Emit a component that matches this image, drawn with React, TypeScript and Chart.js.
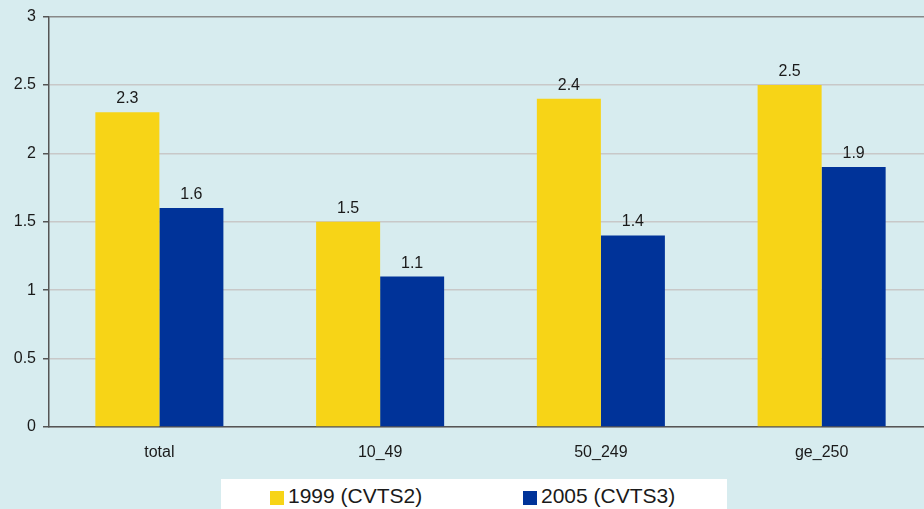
import React, { useEffect, useRef } from "react";
import { Chart, registerables } from "chart.js";

Chart.register(...registerables);

const categories = ["total", "10_49", "50_249", "ge_250"];
const series1999 = [2.3, 1.5, 2.4, 2.5];
const series2005 = [1.6, 1.1, 1.4, 1.9];
const seriesLabels = ["1999 (CVTS2)", "2005 (CVTS3)"];
const seriesColors = ["#F7D417", "#003399"];
const yTicks = [0, 0.5, 1, 1.5, 2, 2.5, 3];

const BG = "#D7ECEF";
const FONT = "'Liberation Sans', Arial, sans-serif";

const bgPlugin = {
  id: "bgfill",
  beforeDraw(chart: any) {
    const { ctx, width, height } = chart;
    ctx.save();
    ctx.fillStyle = BG;
    ctx.fillRect(0, 0, width, height);
    ctx.restore();
  },
};

const labelPlugin = {
  id: "barlabels",
  afterDatasetsDraw(chart: any) {
    const { ctx } = chart;
    ctx.save();
    ctx.font = `16px ${FONT}`;
    ctx.fillStyle = "#1a1a1a";
    ctx.textAlign = "center";
    ctx.textBaseline = "alphabetic";
    chart.data.datasets.forEach((ds: any, i: number) => {
      const meta = chart.getDatasetMeta(i);
      meta.data.forEach((bar: any, j: number) => {
        ctx.fillText(String(ds.data[j]), bar.x, bar.y - 9);
      });
    });
    ctx.restore();
  },
};

export default function App() {
  const ref = useRef<HTMLCanvasElement>(null);
  useEffect(() => {
    const chart = new Chart(ref.current!, {
      type: "bar",
      data: {
        labels: categories,
        datasets: [
          { label: seriesLabels[0], data: series1999, backgroundColor: seriesColors[0] },
          { label: seriesLabels[1], data: series2005, backgroundColor: seriesColors[1] },
        ],
      },
      options: {
        animation: false,
        responsive: false,
        maintainAspectRatio: false,
        layout: { padding: { top: 15, right: 0, left: 0, bottom: 0 } },
        datasets: { bar: { categoryPercentage: 0.58, barPercentage: 1 } },
        plugins: { legend: { display: false }, tooltip: { enabled: false } },
        scales: {
          x: {
            grid: { display: false },
            border: { display: true, color: "#555555", width: 1.5 },
            ticks: { color: "#1a1a1a", font: { family: FONT, size: 16 }, padding: 8 },
            afterFit: (s: any) => {
              s.height = 82;
            },
          },
          y: {
            min: 0,
            max: 3,
            afterBuildTicks: (s: any) => {
              s.ticks = yTicks.map((v) => ({ value: v }));
            },
            grid: {
              color: (c: any) => (c.tick && c.tick.value === 3 ? "#888888" : "#C8C8C8"),
              lineWidth: 1.5,
              tickColor: "#555555",
              tickLength: 6,
            },
            border: { display: true, color: "#555555", width: 1.5 },
            ticks: {
              color: "#1a1a1a",
              font: { family: FONT, size: 16 },
              padding: 7,
              callback: (v: any) => String(v),
            },
            afterFit: (s: any) => {
              s.width = 49;
            },
          },
        },
      },
      plugins: [bgPlugin, labelPlugin],
    });
    return () => chart.destroy();
  }, []);

  return (
    <div
      style={{
        position: "fixed",
        left: 0,
        top: 0,
        width: 924,
        height: 509,
        background: BG,
        fontFamily: FONT,
        overflow: "hidden",
      }}
    >
      <canvas ref={ref} width={932} height={509} style={{ display: "block" }} />
      <div
        style={{
          position: "absolute",
          left: 221,
          top: 479,
          width: 506,
          height: 30,
          background: "#ffffff",
          overflow: "hidden",
        }}
      >
        {seriesLabels.map((l, i) => (
          <React.Fragment key={l}>
            <span
              style={{
                position: "absolute",
                left: i === 0 ? 49 : 302,
                top: 12,
                width: 14,
                height: 14,
                background: seriesColors[i],
              }}
            />
            <span
              style={{
                position: "absolute",
                left: i === 0 ? 67 : 320,
                top: 5,
                fontSize: 21,
                lineHeight: "24px",
                color: "#1a1a1a",
                whiteSpace: "nowrap",
              }}
            >
              {l}
            </span>
          </React.Fragment>
        ))}
      </div>
    </div>
  );
}
